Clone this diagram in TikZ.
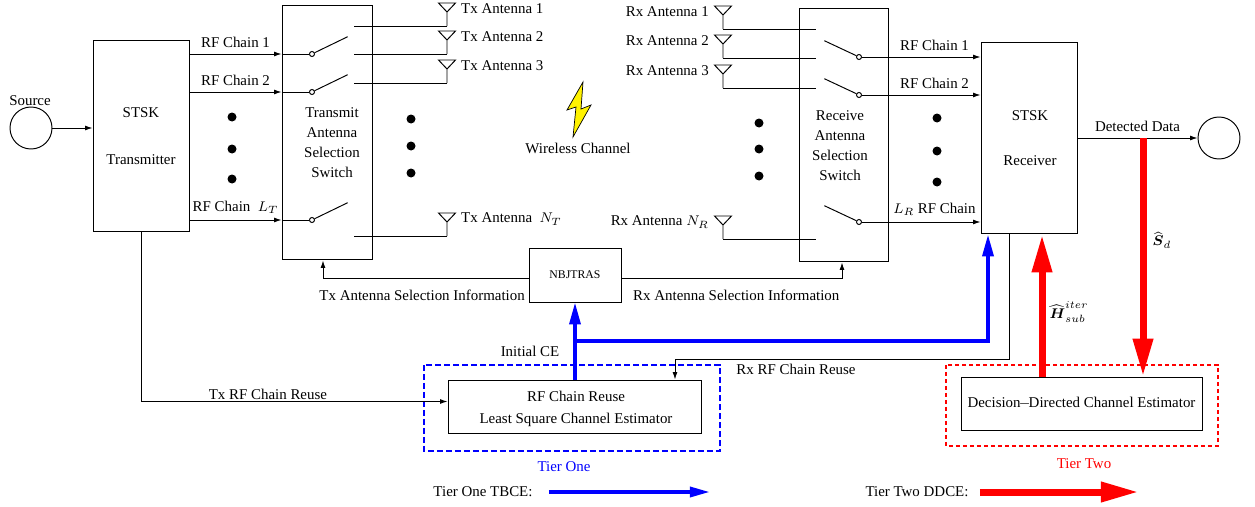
\documentclass[tikz,border=0pt]{standalone}
\usepackage{amsmath}
\usepackage{fontspec}
\setmainfont{Liberation Serif}
\usetikzlibrary{arrows.meta}

\tikzset{
  caja/.style={draw, inner sep=0pt},
  flecha/.style={-{Latex[length=0.15cm,width=0.1cm]}},
  azul/.style={draw=blue, line width=0.07cm, -{Triangle[length=0.44cm,width=0.22cm]}},
  rojo/.style={draw=red, line width=0.14cm, -{Triangle[length=0.76cm,width=0.38cm]}},
  punto/.style={circle, fill, inner sep=0pt, minimum size=0.18cm},
  contacto/.style={circle, draw, fill=white, inner sep=0pt, minimum size=0.1cm},
  antena/.pic={\draw (0,0) -- (0,-14) (-8.5,-23) -- (8.5,-23) -- (0,-14) -- cycle;}
}

\begin{document}
\begin{tikzpicture}[x=0.02cm, y=-0.02cm, line width=0.55pt, font=\fontsize{8.5}{11.4}\selectfont]
\useasboundingbox (0,0) rectangle (1255,507);

% Fuente y transmisor
\node[circle, draw, minimum size=0.84cm, inner sep=0pt] (src) at (31,128) {};
\node (srclab) at (30,101) {Source};
\node[caja, minimum width=1.92cm, minimum height=3.84cm] (tx) at (141,136) {};
\node (txt1) at (141,113) {STSK};
\node (txt2) at (141,160) {Transmitter};
\draw[flecha] (src.east) -- (tx.west |- src);

% Conmutador de antenas Tx
\node[caja, minimum width=1.8cm, minimum height=5.1cm] (txsw) at (327,132.5) {};
\node[align=center] (txswlab) at (332,143) {Transmit\\Antenna\\Selection\\Switch};
\foreach \n/\y/\lab in {1/54/{RF Chain 1}, 2/92/{RF Chain 2}, 3/220/{RF Chain\ \ $L_T$}} {
  \node[contacto] (tc\n) at (312,\y) {};
  \draw[flecha] (tx.east |- tc\n) -- (txsw.west |- tc\n) node[midway, above=2.5pt, inner sep=1pt] {\lab};
  \draw (txsw.west |- tc\n) -- (tc\n);
  \draw (tc\n.26) -- ++(33,-16);
}

% Antenas Tx
\foreach \n/\y/\lab in {1/26/{Tx Antenna 1}, 2/54/{Tx Antenna 2}, 3/83/{Tx Antenna 3}, 4/236/{Tx Antenna\ \ $N_T$}} {
  \coordinate (tl\n) at (354,\y);
  \coordinate (ta\n) at (447,\y);
  \draw (tl\n) -- (ta\n);
  \pic at (ta\n) {antena};
  \node[anchor=west, inner sep=1pt] (tal\n) at (459,\y-17) {\lab};
}

% Puntos
\foreach \y in {117,149,179} \node[punto] (pa\y) at (232,\y) {};
\foreach \y in {119,146,173} \node[punto] (pb\y) at (411,\y) {};
\foreach \y in {123,149,176} \node[punto] (pc\y) at (759,\y) {};
\foreach \y in {118,151,182} \node[punto] (pd\y) at (937,\y) {};

% Canal
\draw[fill=yellow, line width=0.4pt] (583,82) -- (567,110) -- (576,107) -- (573,137) -- (591,105) -- (581,109) -- cycle;
\node (canal) at (578,148) {Wireless Channel};

% Antenas Rx
\foreach \n/\y/\lab in {1/29/{Rx Antenna 1}, 2/58/{Rx Antenna 2}, 3/88/{Rx Antenna 3}, 4/239/{Rx Antenna $N_R$}} {
  \coordinate (ra\n) at (723,\y);
  \coordinate (rl\n) at (816,\y);
  \draw (ra\n) -- (rl\n);
  \pic at (ra\n) {antena};
  \node[anchor=east, inner sep=1pt] (ral\n) at (711,\y-17) {\lab};
}

% Conmutador de antenas Rx y receptor
\node[caja, minimum width=1.78cm, minimum height=5.08cm] (rxsw) at (843.5,135) {};
\node[align=center] (rxswlab) at (840,146) {Receive\\Antenna\\Selection\\Switch};
\node[caja, minimum width=1.92cm, minimum height=3.84cm] (rx) at (1029,138) {};
\node (rxt1) at (1030,116) {STSK};
\node (rxt2) at (1030,161) {Receiver};
\foreach \n/\y/\lab in {1/57/{RF Chain 1}, 2/95/{RF Chain 2}, 3/222/{$L_R$ RF Chain}} {
  \node[contacto] (rc\n) at (859,\y) {};
  \draw (rc\n.154) -- ++(-32,-15);
  \draw (rc\n) -- (rxsw.east |- rc\n);
  \draw[flecha] (rxsw.east |- rc\n) -- (rx.west |- rc\n) node[midway, above=2.5pt, inner sep=1pt] {\lab};
}

% Salida
\node[circle, draw, minimum size=0.84cm, inner sep=0pt] (sink) at (1219,138) {};
\draw[flecha] (rx.east) -- (sink) node[midway, above=2.5pt, inner sep=1pt] {Detected Data};

% Seleccion de antenas
\node[caja, minimum width=1.84cm, minimum height=1.08cm, font=\fontsize{6.7}{8}\selectfont] (nbj) at (575,275) {NBJTRAS};
\draw[flecha] ([yshift=-0.06cm]nbj.west) -| ([xshift=-0.08cm]txsw.south);
\draw[flecha] ([yshift=-0.06cm]nbj.east) -| ([xshift=-0.03cm]rxsw.south);
\node[anchor=east, inner sep=1pt] (tasi) at (527,295) {Tx Antenna Selection Information};
\node[anchor=west, inner sep=1pt] (rasi) at (631,295) {Rx Antenna Selection Information};

% Estimador LS (Tier One)
\draw[blue, line width=0.04cm, dash pattern=on 0.12cm off 0.06cm] (424,365) rectangle (720,451);
\node[caja, minimum width=5.08cm, minimum height=1.06cm] (ls) at (575,406.5) {};
\node (lst1) at (576,396) {RF Chain Reuse};
\node (lst2) at (576,420) {Least Square Channel Estimator};
\node[text=blue] (t1) at (564,467) {Tier One};
\draw[flecha] (tx.south) |- ([yshift=0.1cm]ls.west) node[pos=0.707, above, inner sep=1pt] {Tx RF Chain Reuse};
\coordinate (rxr) at (675,359);
\draw[flecha] ([xshift=-0.4cm]rx.south) |- (rxr) -- (rxr |- ls.north);
\node (rxrl) at (796,369) {Rx RF Chain Reuse};
\draw[azul] (ls.north) -- (nbj.south);
\coordinate (ce) at (575,341);
\draw[azul] (ce) -| ([xshift=-0.82cm]rx.south);
\node (ini) at (530,351) {Initial CE};

% Estimador DD (Tier Two)
\draw[red, line width=0.04cm, dash pattern=on 0.08cm off 0.06cm] (946,365) rectangle (1218,446);
\node[caja, minimum width=4.82cm, minimum height=1.06cm] (dd) at (1081.5,403.5) {Decision{\kern-1pt$-$\kern-1pt}Directed Channel Estimator};
\node[text=red] (t2) at (1084,464) {Tier Two};
\coordinate (hup) at ([xshift=-0.79cm]dd.north);
\draw[rojo] (hup) -- (hup |- rx.south);
\coordinate (sdn) at (1143,138);
\draw[rojo] (sdn) -- (sdn |- dd.north);
\node[inner sep=1pt] (hlab) at (1069,312) {$\widehat{\boldsymbol{H}}^{iter}_{sub}$};
\node[inner sep=1pt] (slab) at (1162,240) {$\widehat{\boldsymbol{S}}_d$};

% Leyenda
\node (leg1) at (483,492) {Tier One TBCE:};
\draw[azul, -{Triangle[length=0.4cm,width=0.2cm]}] ([xshift=0.2cm]leg1.east) -- ++(161,0);
\node (leg2) at (917,492) {Tier Two DDCE:};
\draw[rojo] ([xshift=0.1cm]leg2.east) -- ++(159,0);
\end{tikzpicture}
\end{document}
